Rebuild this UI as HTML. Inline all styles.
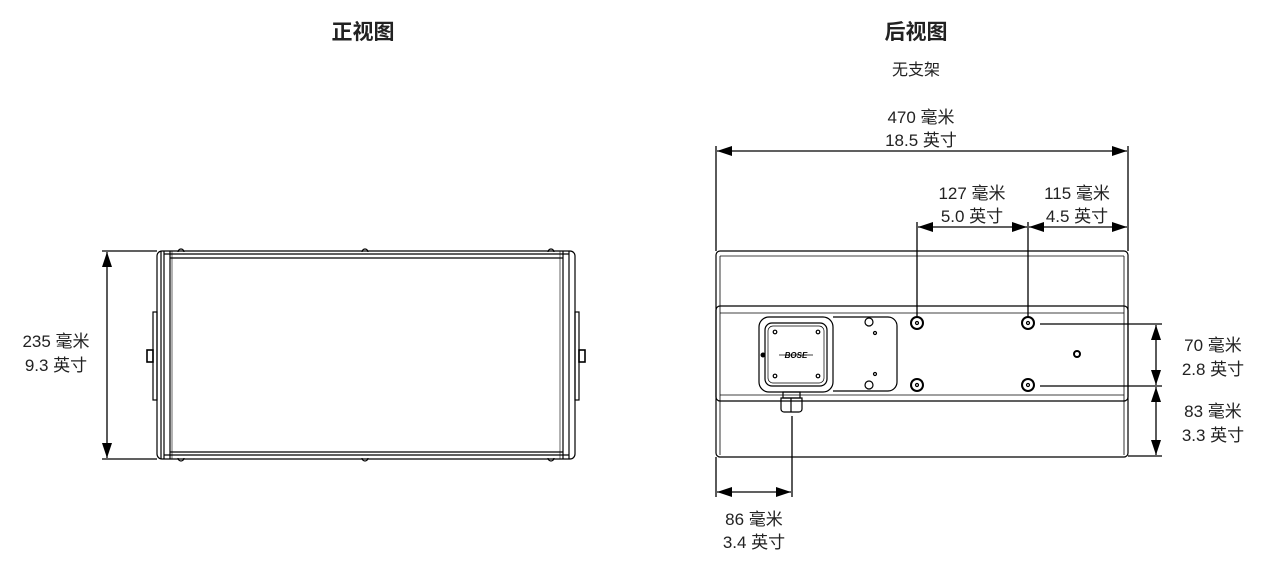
<!DOCTYPE html>
<html><head><meta charset="utf-8"><style>
html,body{margin:0;padding:0;background:#fff;}
svg{display:block}
text{font-family:"Liberation Sans","Noto Sans CJK SC",sans-serif;fill:#222;}
.t{font-size:21px;font-weight:bold;}
.l{font-size:17px;}
</style></head><body>
<svg width="1274" height="571" viewBox="0 0 1274 571" xmlns="http://www.w3.org/2000/svg">
<defs>
<marker id="a" viewBox="0 0 15 10" refX="15" refY="5" markerWidth="15" markerHeight="10" orient="auto-start-reverse" markerUnits="userSpaceOnUse"><path d="M0,0L15,5L0,10z" fill="#000"/></marker>
</defs>
<text class="t" x="363" y="39" text-anchor="middle">正视图</text>
<text class="t" x="916" y="39" text-anchor="middle">后视图</text>
<text class="l" x="916" y="75" text-anchor="middle" style="font-size:16px">无支架</text>

<!-- FRONT VIEW -->
<g fill="none" stroke="#000" stroke-width="1.2">
<rect x="157" y="251" width="418" height="208" rx="5"/>
<line x1="161" y1="251" x2="161" y2="459"/>
<line x1="164" y1="251" x2="164" y2="459"/>
<line x1="170" y1="251" x2="170" y2="459"/>
<line x1="172" y1="251" x2="172" y2="459" stroke-width="0.6"/>
<line x1="563" y1="251" x2="563" y2="459"/>
<line x1="560" y1="251" x2="560" y2="459" stroke-width="0.6"/>
<line x1="569" y1="251" x2="569" y2="459"/>
<line x1="164" y1="254" x2="569" y2="254"/>
<line x1="170" y1="258" x2="563" y2="258"/>
<line x1="164" y1="455" x2="569" y2="455"/>
<line x1="170" y1="452" x2="563" y2="452"/>
<path d="M178,252a3,3 0 0 1 6,0 M362,252a3,3 0 0 1 6,0 M548,252a3,3 0 0 1 6,0"/>
<path d="M178,458a3,3 0 0 0 6,0 M362,458a3,3 0 0 0 6,0 M548,458a3,3 0 0 0 6,0"/>
<rect x="153" y="312" width="4" height="88"/>
<rect x="147" y="350" width="6" height="12" stroke-width="1.6"/>
<rect x="575" y="312" width="4" height="88"/>
<rect x="579" y="350" width="6" height="12" stroke-width="1.6"/>
</g>
<!-- front dim -->
<g stroke="#000" stroke-width="1.3" fill="none">
<line x1="102" y1="251" x2="157" y2="251"/>
<line x1="102" y1="459" x2="157" y2="459"/>
<line x1="107" y1="252" x2="107" y2="458" marker-start="url(#a)" marker-end="url(#a)"/>
</g>
<text class="l" x="56" y="347" text-anchor="middle">235 毫米</text>
<text class="l" x="56" y="371" text-anchor="middle">9.3 英寸</text>

<!-- BACK VIEW -->
<g fill="none" stroke="#000" stroke-width="1.2">
<rect x="716" y="251" width="412" height="206" rx="4"/>
<path d="M720,256 H1124" stroke-width="0.8"/>
<rect x="716" y="306" width="412" height="95" rx="4"/>
<line x1="720" y1="313" x2="1124" y2="313" stroke-width="0.8"/>
<line x1="720" y1="395" x2="1124" y2="395" stroke-width="0.8"/>
<line x1="1124" y1="256" x2="1124" y2="455" stroke-width="0.8"/>
<line x1="720" y1="256" x2="720" y2="455" stroke-width="0.8"/>
<rect x="759" y="317" width="74" height="75" rx="10"/>
<rect x="765" y="323" width="62" height="63" rx="7"/>
<rect x="768" y="326" width="56" height="57" rx="5" stroke-width="0.7"/>
<circle cx="775" cy="332" r="1.8"/><circle cx="818" cy="332" r="1.8"/>
<circle cx="775" cy="376" r="1.8"/><circle cx="818" cy="376" r="1.8"/>
<path d="M833,317 H888 a9,9 0 0 1 9,9 V382 a9,9 0 0 1 -9,9 H833"/>
<circle cx="869" cy="322" r="4"/><circle cx="869" cy="385" r="4"/>
<circle cx="875" cy="333" r="1.5"/><circle cx="875" cy="374" r="1.5"/>
<circle cx="917" cy="323" r="6" stroke-width="2"/><circle cx="917" cy="323" r="1.5"/>
<circle cx="1028" cy="323" r="6" stroke-width="2"/><circle cx="1028" cy="323" r="1.5"/>
<circle cx="917" cy="385" r="6" stroke-width="2"/><circle cx="917" cy="385" r="1.5"/>
<circle cx="1028" cy="385" r="6" stroke-width="2"/><circle cx="1028" cy="385" r="1.5"/>
<circle cx="1077" cy="354" r="3" stroke-width="2"/>
<rect x="783" y="392" width="17" height="6"/>
<path d="M781,398 H802 V409 a3,3 0 0 1 -3,3 H784 a3,3 0 0 1 -3,-3 Z"/>
<line x1="791" y1="398" x2="791" y2="412"/>
</g>
<circle cx="763" cy="355" r="2.5" fill="#000"/>
<text x="796" y="358" text-anchor="middle" style="font-size:8px;font-weight:bold;font-style:italic;fill:#000">BOSE</text>
<line x1="779" y1="355" x2="813" y2="355" stroke="#000" stroke-width="0.8"/>

<g stroke="#000" stroke-width="1.3" fill="none">
<line x1="716" y1="146" x2="716" y2="251"/>
<line x1="1128" y1="146" x2="1128" y2="251"/>
<line x1="717" y1="151" x2="1127" y2="151" marker-start="url(#a)" marker-end="url(#a)"/>
<line x1="917" y1="222" x2="917" y2="317"/>
<line x1="1028" y1="222" x2="1028" y2="317"/>
<line x1="918" y1="227" x2="1027" y2="227" marker-start="url(#a)" marker-end="url(#a)"/>
<line x1="1029" y1="227" x2="1127" y2="227" marker-start="url(#a)" marker-end="url(#a)"/>
<line x1="1040" y1="324" x2="1162" y2="324"/>
<line x1="1040" y1="386" x2="1162" y2="386"/>
<line x1="1128" y1="456" x2="1162" y2="456"/>
<line x1="1156" y1="325" x2="1156" y2="385" marker-start="url(#a)" marker-end="url(#a)"/>
<line x1="1156" y1="387" x2="1156" y2="455" marker-start="url(#a)" marker-end="url(#a)"/>
<line x1="792" y1="416" x2="792" y2="497"/>
<line x1="716" y1="457" x2="716" y2="497"/>
<line x1="717" y1="492" x2="791" y2="492" marker-start="url(#a)" marker-end="url(#a)"/>
</g>
<text class="l" x="921" y="123" text-anchor="middle">470 毫米</text>
<text class="l" x="921" y="146" text-anchor="middle">18.5 英寸</text>
<text class="l" x="972" y="199" text-anchor="middle">127 毫米</text>
<text class="l" x="972" y="222" text-anchor="middle">5.0 英寸</text>
<text class="l" x="1077" y="199" text-anchor="middle">115 毫米</text>
<text class="l" x="1077" y="222" text-anchor="middle">4.5 英寸</text>
<text class="l" x="1213" y="351" text-anchor="middle">70 毫米</text>
<text class="l" x="1213" y="375" text-anchor="middle">2.8 英寸</text>
<text class="l" x="1213" y="417" text-anchor="middle">83 毫米</text>
<text class="l" x="1213" y="441" text-anchor="middle">3.3 英寸</text>
<text class="l" x="754" y="525" text-anchor="middle">86 毫米</text>
<text class="l" x="754" y="548" text-anchor="middle">3.4 英寸</text>
</svg>
</body></html>
